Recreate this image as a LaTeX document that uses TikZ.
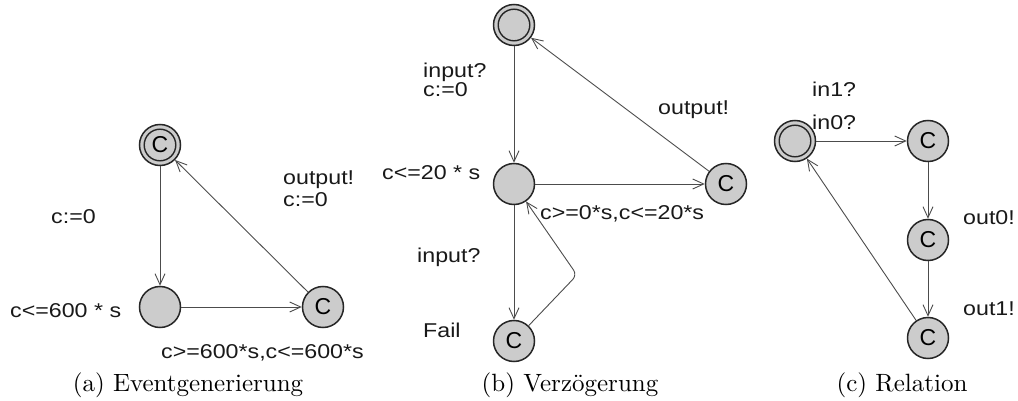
\documentclass[tikz,border=0pt]{standalone}
\usepackage{fontspec}
\newfontfamily\lblfont{Liberation Sans}
\usetikzlibrary{arrows.meta}

\tikzset{
  loc/.style={circle, draw=black!85, fill=black!20, line width=1.5pt,
    minimum size=41pt, inner sep=0pt, font=\lblfont\fontsize{23}{23}\selectfont},
  initloc/.style={loc, path picture={\draw[black!85, line width=1.4pt]
      (path picture bounding box.center) circle[radius=15.8pt];}},
  edge/.style={draw=black!70, line width=0.9pt,
    -{Straight Barb[length=11pt,width=10pt,line width=0.9pt]}},
  lbl/.style={anchor=base west, inner sep=0pt, text=black!90, xscale=1.16,
    font=\lblfont\fontsize{20}{20}\selectfont},
  capt/.style={anchor=base, inner sep=0pt},
}
\newcommand{\captiontext}[1]{\scalebox{2.5}{\fontsize{10}{12}\selectfont #1}}

\begin{document}
\begin{tikzpicture}[x=1pt, y=-1pt]
\useasboundingbox (0,0) rectangle (1018,401);

% ---------- (a) Eventgenerierung ----------
\node[initloc] (a1) at (160,145) {C};
\node[loc] (a2) at (160,307) {};
\node[loc] (a3) at (323,307) {C};
\draw[edge] (a1) -- (a2);
\draw[edge] (a2) -- (a3);
\draw[edge] (a3) -- (a1);
\node[lbl] (ta1) at (51,223) {c:=0};
\node[lbl] (ta2) at (283,185) {output!};
\node[lbl] (ta3) at (283,207) {c:=0};
\node[lbl] (ta4) at (10,317) {c<=600 * s};
\node[lbl] (ta5) at (161,358) {c>=600*s,c<=600*s};
\node[capt] (capa) at (188,391) {\captiontext{(a) Eventgenerierung}};

% ---------- (b) Verzoegerung ----------
\node[initloc] (b1) at (514,25) {};
\node[loc] (b2) at (514,184) {};
\node[loc] (b3) at (726,184) {C};
\node[loc] (b4) at (514,341) {C};
\coordinate (bk) at (577,275);
\draw[edge] (b1) -- (b2);
\draw[edge] (b2) -- (b3);
\draw[edge] (b3) -- (b1);
\draw[edge] (b2) -- (b4);
\draw[edge, rounded corners=6pt] (b4) -- (bk) -- (b2);
\node[lbl] (tb1) at (423,78) {input?};
\node[lbl] (tb2) at (423,97) {c:=0};
\node[lbl] (tb3) at (658,115) {output!};
\node[lbl] (tb4) at (382,180) {c<=20 * s};
\node[lbl] (tb5) at (540,219) {c>=0*s,c<=20*s};
\node[lbl] (tb6) at (417,262) {input?};
\node[lbl] (tb7) at (423,337) {Fail};
\node[capt] (capb) at (570,391) {\captiontext{(b) Verzögerung}};

% ---------- (c) Relation ----------
\node[initloc] (c1) at (795,141) {};
\node[loc] (c2) at (928,141) {C};
\node[loc] (c3) at (928,240) {C};
\node[loc] (c4) at (928,338) {C};
\draw[edge] (c1) -- (c2);
\draw[edge] (c2) -- (c3);
\draw[edge] (c3) -- (c4);
\draw[edge] (c4) -- (c1);
\node[lbl] (tc1) at (812,97) {in1?};
\node[lbl] (tc2) at (812,130) {in0?};
\node[lbl] (tc3) at (963,225) {out0!};
\node[lbl] (tc4) at (963,315) {out1!};
\node[capt] (capc) at (902,391) {\captiontext{(c) Relation}};
\end{tikzpicture}
\end{document}
